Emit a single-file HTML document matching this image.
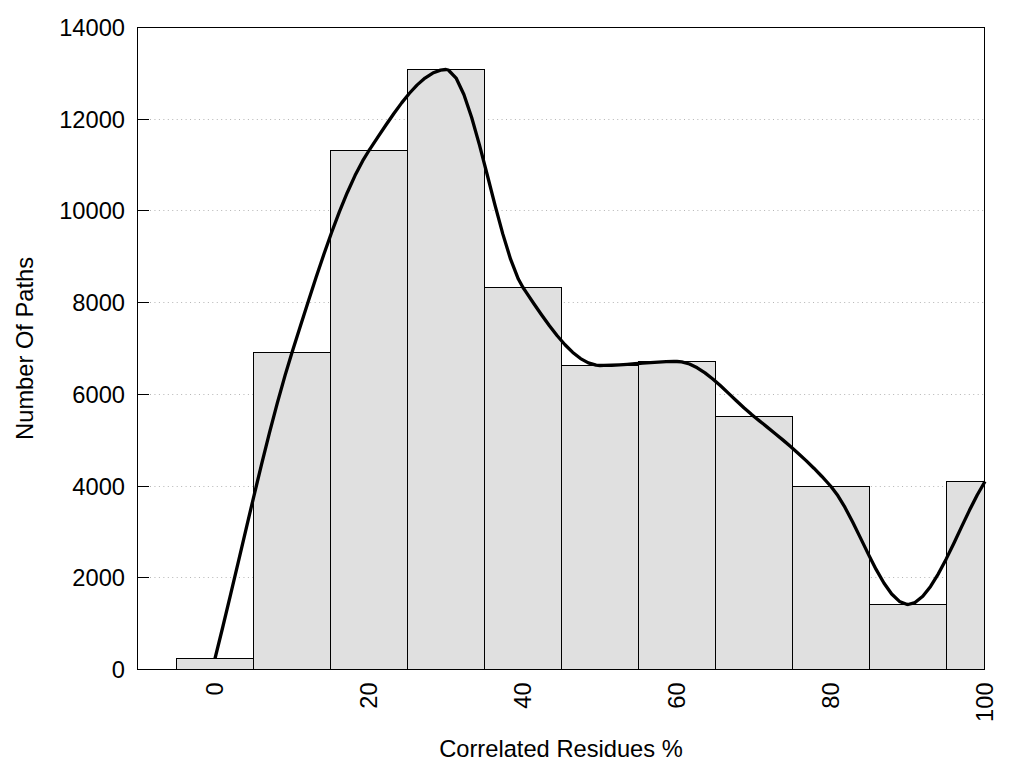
<!DOCTYPE html>
<html lang="en">
<head>
<meta charset="utf-8">
<title>Correlated Residues Histogram</title>
<style>
html,body{margin:0;padding:0;background:#fff;}
body{width:1024px;height:768px;overflow:hidden;}
svg{display:block;}
text{font-family:"Liberation Sans",Arial,Helvetica,sans-serif;font-size:23.7px;fill:#000;}
.crisp{shape-rendering:crispEdges;}
</style>
</head>
<body>
<svg width="1024" height="768" viewBox="0 0 1024 768">
<rect x="0" y="0" width="1024" height="768" fill="#ffffff"/>

<g stroke="#b4b4b4" stroke-width="1" stroke-dasharray="1 3.45" fill="none">
<line x1="150" y1="577.5" x2="984.5" y2="577.5"/>
<line x1="150" y1="486.5" x2="984.5" y2="486.5"/>
<line x1="150" y1="394.5" x2="984.5" y2="394.5"/>
<line x1="150" y1="302.5" x2="984.5" y2="302.5"/>
<line x1="150" y1="210.5" x2="984.5" y2="210.5"/>
<line x1="150" y1="119.5" x2="984.5" y2="119.5"/>
</g>
<g class="crisp" fill="#e0e0e0" stroke="#000" stroke-width="1">
<rect x="176.5" y="658.5" width="77.0" height="11.0"/>
<rect x="253.5" y="352.5" width="77.0" height="317.0"/>
<rect x="330.5" y="150.5" width="77.0" height="519.0"/>
<rect x="407.5" y="69.5" width="77.0" height="600.0"/>
<rect x="484.5" y="287.5" width="77.0" height="382.0"/>
<rect x="561.5" y="365.5" width="77.0" height="304.0"/>
<rect x="638.5" y="361.5" width="77.0" height="308.0"/>
<rect x="715.5" y="416.5" width="77.0" height="253.0"/>
<rect x="792.5" y="486.5" width="77.0" height="183.0"/>
<rect x="869.5" y="604.5" width="77.0" height="65.0"/>
<rect x="946.5" y="481.5" width="38.0" height="188.0"/>
</g>
<path d="M215.00,658.50 L222.78,627.02 L230.56,594.64 L238.33,561.76 L246.11,528.77 L253.89,496.05 L261.67,463.98 L269.44,432.96 L277.22,403.38 L285.00,375.61 L292.00,352.50 L292.78,350.04 L300.56,325.48 L308.33,301.14 L316.11,277.32 L323.89,254.29 L331.67,232.32 L339.44,211.70 L347.22,192.70 L355.00,175.60 L362.78,160.68 L369.00,150.50 L370.56,148.16 L378.33,136.39 L386.11,124.73 L393.89,113.46 L401.67,102.87 L409.44,93.25 L417.22,84.87 L425.00,78.03 L432.78,73.02 L440.56,70.12 L446.00,69.50 L448.33,69.99 L456.11,78.07 L463.89,94.57 L471.67,117.51 L479.44,144.89 L487.22,174.74 L495.00,205.07 L502.78,233.88 L510.56,259.21 L518.33,279.05 L523.00,287.50 L526.11,292.15 L533.89,303.72 L541.67,315.01 L549.44,325.79 L557.22,335.79 L565.00,344.75 L572.78,352.43 L580.56,358.57 L588.33,362.91 L596.11,365.20 L600.00,365.50 L603.89,365.47 L611.67,365.25 L619.44,364.86 L627.22,364.35 L635.00,363.77 L642.78,363.17 L650.56,362.59 L658.33,362.09 L666.11,361.72 L673.89,361.52 L677.00,361.50 L681.67,361.87 L689.44,364.00 L697.22,367.76 L705.00,372.85 L712.78,378.97 L720.56,385.82 L728.33,393.11 L736.11,400.54 L743.89,407.80 L751.67,414.60 L754.00,416.50 L759.44,420.85 L767.22,427.09 L775.00,433.41 L782.78,439.87 L790.56,446.52 L798.33,453.42 L806.11,460.63 L813.89,468.22 L821.67,476.23 L829.44,484.74 L831.00,486.50 L837.22,494.69 L845.00,507.48 L852.78,522.26 L860.56,538.11 L868.33,554.13 L876.11,569.38 L883.89,582.95 L891.67,593.94 L899.44,601.42 L907.22,604.47 L908.00,604.50 L915.00,602.56 L922.78,596.31 L930.56,586.48 L938.33,573.84 L946.11,559.15 L953.89,543.16 L961.67,526.64 L969.44,510.35 L977.22,495.05 L985.00,481.50" fill="none" stroke="#000" stroke-width="3.3" stroke-linejoin="round" stroke-linecap="butt"/>
<g class="crisp" stroke="#000" stroke-width="1" fill="none">
<rect x="137.5" y="27.5" width="847.0" height="642.0"/>
<line x1="137.5" y1="669.5" x2="149" y2="669.5"/>
<line x1="137.5" y1="577.5" x2="149" y2="577.5"/>
<line x1="137.5" y1="486.5" x2="149" y2="486.5"/>
<line x1="137.5" y1="394.5" x2="149" y2="394.5"/>
<line x1="137.5" y1="302.5" x2="149" y2="302.5"/>
<line x1="137.5" y1="210.5" x2="149" y2="210.5"/>
<line x1="137.5" y1="119.5" x2="149" y2="119.5"/>
<line x1="137.5" y1="27.5" x2="149" y2="27.5"/>
</g>
<g text-anchor="end">
<text x="125" y="678.0">0</text>
<text x="125" y="586.3">2000</text>
<text x="125" y="494.6">4000</text>
<text x="125" y="402.9">6000</text>
<text x="125" y="311.1">8000</text>
<text x="125" y="219.4">10000</text>
<text x="125" y="127.7">12000</text>
<text x="125" y="36.0">14000</text>
</g>
<g text-anchor="end">
<text transform="translate(223.3,682.4) rotate(-90)">0</text>
<text transform="translate(377.3,682.4) rotate(-90)">20</text>
<text transform="translate(531.3,682.4) rotate(-90)">40</text>
<text transform="translate(685.3,682.4) rotate(-90)">60</text>
<text transform="translate(839.3,682.4) rotate(-90)">80</text>
<text transform="translate(993.3,682.4) rotate(-90)">100</text>
</g>
<text x="561" y="757.2" text-anchor="middle">Correlated Residues %</text>
<text transform="translate(33.4,348.4) rotate(-90)" text-anchor="middle">Number Of Paths</text>
</svg>
</body>
</html>
